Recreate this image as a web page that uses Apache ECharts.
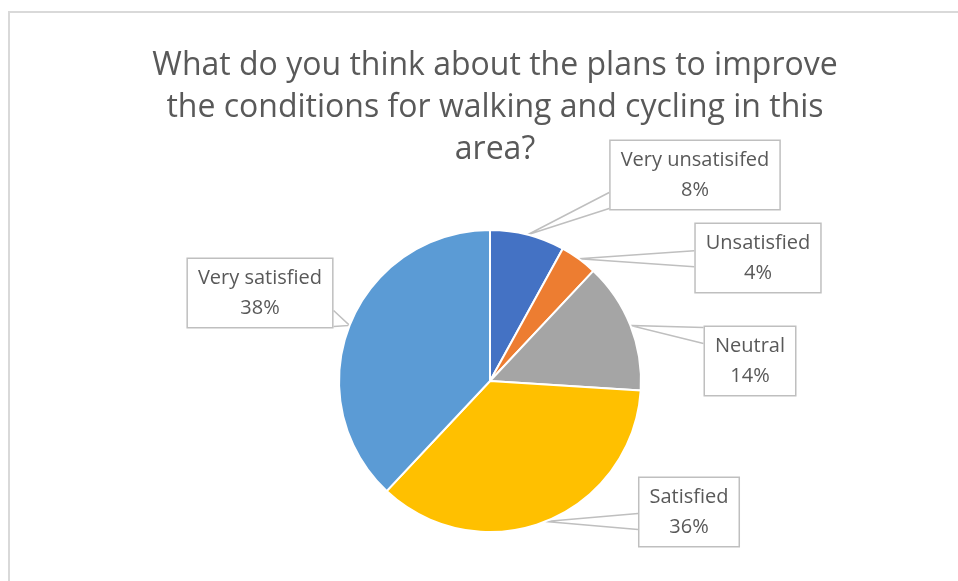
<!DOCTYPE html>
<html>
<head>
<meta charset="utf-8">
<script src="https://cdn.jsdelivr.net/npm/echarts@6/dist/echarts.min.js"></script>
<style>
  html, body { margin: 0; padding: 0; background: #fff; }
  #chart { width: 958px; height: 581px; }
</style>
</head>
<body>
<div id="chart"></div>
<script>
const categories = ['Very unsatisifed', 'Unsatisfied', 'Neutral', 'Satisfied', 'Very satisfied'];
const shares = [8, 4, 14, 36, 38];
const colors = ['#4472C4', '#ED7D31', '#A5A5A5', '#FFC000', '#5B9BD5'];

// where the callout boxes sit (centre of box)
const labelSpots = [[695, 175], [758, 258], [750, 361], [689, 512], [260, 293]];

let myChart = echarts.init(document.getElementById('chart'));

// callout wedge: from the box side facing the slice, to the slice edge, back to the box
function calloutLayout(p) {
    let cx = labelSpots[p.dataIndex][0], cy = labelSpots[p.dataIndex][1];
    let w = p.labelRect.width, h = p.labelRect.height;
    let tip = p.labelLinePoints ? p.labelLinePoints[0] : [cx, cy];
    let top = cy - h / 2, bottom = cy + h / 2;
    let sideX = tip[0] < cx ? cx - w / 2 : cx + w / 2;
    let mid = Math.min(Math.max(tip[1], top + 10), bottom - 10);
    return {
        x: cx,
        y: cy,
        align: 'center',
        verticalAlign: 'middle',
        labelLinePoints: [[sideX, mid - 8], [tip[0], tip[1]], [sideX, mid + 8]]
    };
}

myChart.setOption({
    backgroundColor: '#fff',
    animation: false,
    title: {
        text: 'What do you think about the plans to improve\nthe conditions for walking and cycling in this\narea?',
        left: 490,
        textAlign: 'center',
        top: 40,
        textStyle: {
            fontFamily: 'Open Sans',
            fontSize: 32,
            fontWeight: 'normal',
            lineHeight: 42,
            color: '#595959'
        }
    },
    graphic: [{
        type: 'rect',
        shape: { x: 9, y: 12, width: 1000, height: 700 },
        style: { fill: 'none', stroke: '#d9d9d9', lineWidth: 2 },
        silent: true
    }],
    series: [{
        type: 'pie',
        clockwise: true,
        startAngle: 90,
        radius: [0, 151],
        center: [490, 381],
        silent: true,
        itemStyle: {
            borderColor: '#fff',
            borderWidth: 2
        },
        label: {
            show: true,
            formatter: p => p.name + '\n' + p.value + '%',
            fontFamily: 'Open Sans',
            fontSize: 20,
            lineHeight: 30,
            color: '#595959',
            align: 'center',
            backgroundColor: '#fff',
            borderColor: '#bfbfbf',
            borderWidth: 1.5,
            padding: [4, 10]
        },
        labelLine: {
            show: true,
            lineStyle: { color: '#bfbfbf', width: 1.5 }
        },
        labelLayout: calloutLayout,
        data: categories.map((c, i) => ({
            name: c,
            value: shares[i],
            itemStyle: { color: colors[i] }
        }))
    }]
});
</script>
</body>
</html>
